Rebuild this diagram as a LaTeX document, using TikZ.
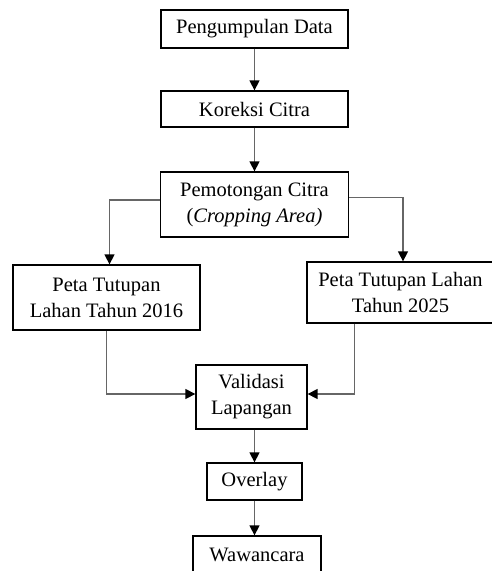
\documentclass[tikz,border=0pt]{standalone}
\usepackage{fontspec}
\setmainfont{Liberation Serif}
\usetikzlibrary{arrows.meta}
\begin{document}
\begin{tikzpicture}[x=1pt,y=-1pt,
  box/.style={draw=black,line width=1.3pt,fill=white,align=center,inner sep=0pt,
    font=\fontsize{20.5}{26}\selectfont},
  conn/.style={draw=black!60,line width=1.4pt,-{Triangle[width=10pt,length=10pt,color=black]}},
  link/.style={draw=black!60,line width=1.4pt}]
\useasboundingbox (0,0) rectangle (492,571);
\node[box,minimum width=187pt,minimum height=38pt] (pd) at (254.5,29) {Pengumpulan Data};
\node[box,minimum width=187pt,minimum height=36pt] (kc) at (254.5,109) {Koreksi Citra};
\node[box,minimum width=188pt,minimum height=65pt] (pc) at (254.5,204.5) {Pemotongan Citra\\(\textit{Cropping Area)}};
\node[box,minimum width=187pt,minimum height=65pt] (l16) at (106.5,297.5) {Peta Tutupan\\Lahan Tahun 2016};
\node[box,minimum width=187pt,minimum height=61pt] (r25) at (400.5,292.5) {Peta Tutupan Lahan\\Tahun 2025};
\node[box,minimum width=111pt,minimum height=64pt] (val) at (251.5,397) {Validasi\\Lapangan};
\node[box,minimum width=95pt,minimum height=37pt] (ov) at (254.5,481.5) {Overlay};
\node[box,minimum width=128pt,minimum height=37pt] (ww) at (257,554.5) {Wawancara};
\draw[conn] (pd.south) -- (kc.north);
\draw[conn] (kc.south) -- (pc.north);
\draw[conn] ([yshift=4.5pt]pc.west) -| ([xshift=3pt]l16.north);
\draw[conn] ([yshift=7pt]pc.east) -| ([xshift=2.5pt]r25.north);
\draw[conn] (l16.south) |- ([yshift=3pt]val.west);
\draw[conn] ([xshift=-46pt]r25.south) |- ([yshift=3pt]val.east);
\draw[conn] ([xshift=3pt]val.south) -- (ov.north);
\draw[conn] (ov.south) -- (ov.south |- ww.north);
\end{tikzpicture}
\end{document}
